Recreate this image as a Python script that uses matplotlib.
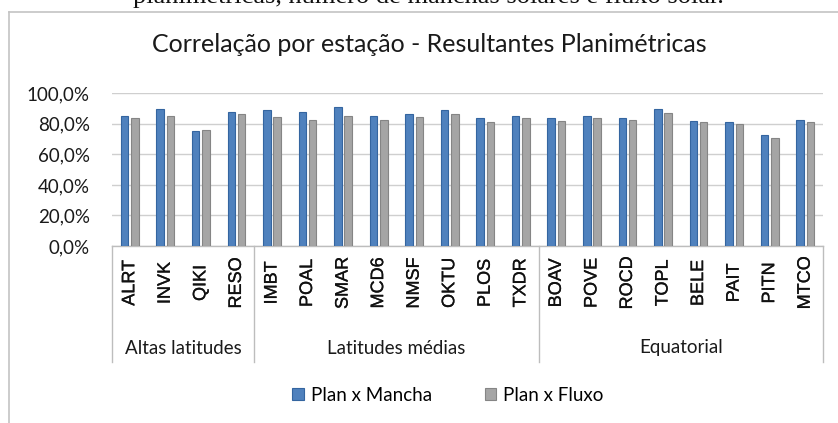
import numpy as np
import matplotlib
matplotlib.use("Agg")
import matplotlib.pyplot as plt
import matplotlib.patheffects as pe
from matplotlib.lines import Line2D
from matplotlib.transforms import blended_transform_factory

# dados
estacoes = ["ALRT", "INVK", "QIKI", "RESO",
            "IMBT", "POAL", "SMAR", "MCD6", "NMSF", "OKTU", "PLOS", "TXDR",
            "BOAV", "POVE", "ROCD", "TOPL", "BELE", "PAIT", "PITN", "MTCO"]
plan_mancha = [85.2, 89.6, 75.0, 88.0,
               88.9, 88.0, 91.3, 85.4, 86.3, 88.8, 83.7, 85.4,
               83.7, 85.4, 83.7, 89.6, 82.0, 81.1, 72.4, 82.8]
plan_fluxo = [83.5, 85.2, 75.9, 86.3,
              84.6, 82.8, 85.4, 82.8, 84.6, 86.3, 81.1, 83.7,
              82.0, 83.7, 82.8, 87.2, 81.1, 80.2, 70.7, 81.1]
grupos = ["Altas latitudes", "Latitudes médias", "Equatorial"]
tamanho_grupos = [4, 8, 8]
yticks = [0, 20, 40, 60, 80, 100]

W, H = 838, 423
fig = plt.figure(figsize=(W / 100, H / 100), dpi=100)
ax = fig.add_axes([112 / W, 1 - 246 / H, (823 - 112) / W, (246 - 93.3) / H])

x = np.arange(len(estacoes))
bw = 0.21
ax.bar(x - 0.145, plan_mancha, bw, color="#4f81bd", edgecolor="#3465a0", linewidth=0.8,
       label="Plan x Mancha", zorder=3)
ax.bar(x + 0.145, plan_fluxo, bw, color="#a5a5a5", edgecolor="#858585", linewidth=0.8,
       label="Plan x Fluxo", zorder=3)

ax.set_xlim(-0.5, len(estacoes) - 0.5)
ax.set_ylim(0, 100)
ax.set_yticks(yticks)
ax.set_yticklabels([f"{v:.1f}%".replace(".", ",") for v in yticks],
                   fontsize=13.5, family="Lato", color="#1a1a1a")
ax.tick_params(axis="y", length=0, pad=16)
ax.set_xticks([])
ax.grid(axis="y", color="#cfcfcf", linewidth=1.0, zorder=0)
for s in ["left", "right", "top"]:
    ax.spines[s].set_visible(False)
ax.spines["bottom"].set_color("#bdbdbd")
ax.spines["bottom"].set_linewidth(1.0)

# eixo de categorias em dois niveis
tr = blended_transform_factory(ax.transData, fig.transFigure)
for i, nome in enumerate(estacoes):
    ax.text(i, 1 - 283 / H, nome, transform=tr, rotation=90, ha="center", va="center",
            fontsize=13, family="Liberation Sans", color="#111111",
            path_effects=[pe.withStroke(linewidth=0.2, foreground="#111111")])

limites = np.concatenate([[0], np.cumsum(tamanho_grupos)]) - 0.5
for b in limites:
    fig.add_artist(Line2D([b, b], [1 - 246 / H, 1 - 362 / H], transform=tr,
                          color="#bdbdbd", linewidth=1.0))
for g, a, b in zip(grupos, limites[:-1], limites[1:]):
    ax.text((a + b) / 2, 1 - 348 / H, g, transform=tr, ha="center", va="center",
            fontsize=13.5, family="Lato", color="#1a1a1a")

# titulo
fig.text(429 / W, 1 - 45 / H, "Correlação por estação - Resultantes Planimétricas",
         ha="center", va="center", fontsize=18, family="Lato", color="#1a1a1a")

# legenda
h, l = ax.get_legend_handles_labels()
leg = fig.legend(h, l, loc="center", bbox_to_anchor=(448 / W, 1 - 395 / H), ncol=2,
                 frameon=False, prop={"family": "Lato", "size": 13.5},
                 handlelength=0.6, handleheight=0.6, handletextpad=0.4, columnspacing=2.8)

# moldura e legenda do documento (cortada no topo)
fig.add_artist(Line2D([9 / W, 9 / W], [0, 1 - 11.7 / H], color="#c4c4c4", linewidth=1.2))
fig.add_artist(Line2D([9 / W, 1], [1 - 11.7 / H, 1 - 11.7 / H], color="#c4c4c4", linewidth=1.2))
fig.text(133 / W, 1 - 2.5 / H, "planimétricas, número de manchas solares e fluxo solar.",
         ha="left", va="baseline", fontsize=19, family="Liberation Serif", color="#111111")

fig.savefig("out.png", dpi=100)
